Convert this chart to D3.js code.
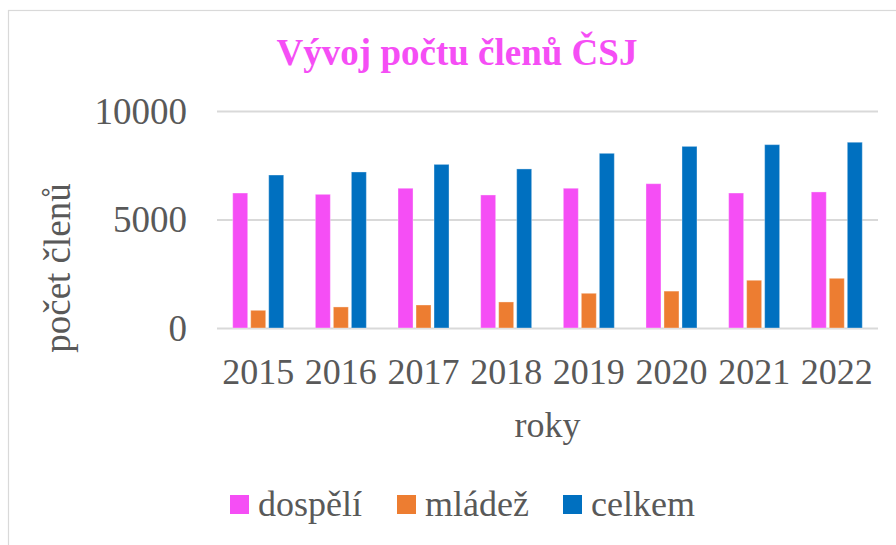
<!DOCTYPE html>
<html>
<head>
<meta charset="utf-8">
<script src="https://cdn.jsdelivr.net/npm/d3@7"></script>
<style>
  body { margin: 0; background: #fff; }
</style>
</head>
<body>
<div id="chart"></div>
<script>
const years = ["2015", "2016", "2017", "2018", "2019", "2020", "2021", "2022"];
const dospeli = [6220, 6160, 6440, 6130, 6440, 6650, 6220, 6270];
const mladez = [815, 970, 1060, 1200, 1600, 1700, 2200, 2290];
const celkem = [7050, 7190, 7540, 7330, 8050, 8370, 8450, 8560];
const seriesNames = ["dospělí", "mládež", "celkem"];
const seriesColors = ["#F54EF5", "#ED7D31", "#0070C0"];
const yTicks = [0, 5000, 10000];

const width = 896, height = 545;
const plot = { left: 217, right: 878, top: 111, bottom: 328 };
const serif = "'Liberation Serif', 'Times New Roman', Times, serif";

const svg = d3.select("#chart").append("svg")
    .attr("width", width)
    .attr("height", height)
    .style("font-family", serif);

// chart area border
svg.append("rect")
    .attr("x", 8.5).attr("y", 10.5)
    .attr("width", 1000).attr("height", 1000)
    .attr("fill", "#fff")
    .attr("stroke", "#d9d9d9")
    .attr("stroke-width", 1.2);

const y = d3.scaleLinear().domain([0, 10000]).range([plot.bottom, plot.top]);
const x0 = d3.scaleBand().domain(years).range([plot.left, plot.right])
    .paddingInner(0.383).paddingOuter(0.19);
const x1 = d3.scaleBand().domain(seriesNames).range([0, x0.bandwidth()])
    .paddingInner(0.167);

// y axis + gridlines
const yAxis = svg.append("g")
    .attr("transform", `translate(${plot.left},0)`)
    .call(d3.axisLeft(y).tickValues(yTicks).tickFormat(d3.format("d"))
        .tickSize(-(plot.right - plot.left)).tickPadding(30));
yAxis.attr("font-family", null);
yAxis.select(".domain").remove();
yAxis.selectAll(".tick line").attr("stroke", "#d9d9d9").attr("stroke-width", 1.8);
yAxis.selectAll(".tick text")
    .attr("fill", "#595959")
    .style("font-family", serif)
    .style("font-size", "37px")
    .attr("dy", "0.33em");

// x axis labels
const xAxis = svg.append("g")
    .attr("transform", `translate(0,${plot.bottom})`)
    .call(d3.axisBottom(x0).tickSize(0).tickPadding(30));
xAxis.attr("font-family", null);
xAxis.select(".domain").remove();
xAxis.selectAll(".tick text")
    .attr("fill", "#595959")
    .style("font-family", serif)
    .style("font-size", "36px");

// bars
const rows = years.map((yr, i) => ({ year: yr, values: [dospeli[i], mladez[i], celkem[i]] }));
const groups = svg.append("g").selectAll("g")
    .data(rows)
    .join("g")
    .attr("transform", d => `translate(${x0(d.year)},0)`);

groups.selectAll("rect")
    .data(d => d.values.map((v, k) => ({ key: seriesNames[k], value: v, color: seriesColors[k] })))
    .join("rect")
    .attr("x", d => x1(d.key))
    .attr("y", d => y(d.value))
    .attr("width", x1.bandwidth())
    .attr("height", d => y(0) - y(d.value))
    .attr("fill", d => d.color)
    .attr("stroke", "#fff")
    .attr("stroke-opacity", 0.35)
    .attr("stroke-width", 1);

// title
svg.append("text")
    .attr("x", 457).attr("y", 65)
    .attr("text-anchor", "middle")
    .attr("fill", "#F54EF5")
    .style("font-family", serif)
    .style("font-size", "37px")
    .style("font-weight", "bold")
    .text("Vývoj počtu členů ČSJ");

// axis titles
svg.append("text")
    .attr("x", (plot.left + plot.right) / 2).attr("y", 437)
    .attr("text-anchor", "middle")
    .attr("fill", "#595959")
    .style("font-family", serif)
    .style("font-size", "36px")
    .text("roky");

svg.append("text")
    .attr("transform", "translate(70,268) rotate(-90)")
    .attr("text-anchor", "middle")
    .attr("fill", "#595959")
    .style("font-family", serif)
    .style("font-size", "37px")
    .text("počet členů");

// legend
const legendX = [230, 397, 563];
const legend = svg.append("g").selectAll("g")
    .data(seriesNames)
    .join("g")
    .attr("transform", (d, i) => `translate(${legendX[i]},495)`);
legend.append("rect")
    .attr("width", 19).attr("height", 19)
    .attr("fill", (d, i) => seriesColors[i]);
legend.append("text")
    .attr("x", 28).attr("y", 21)
    .attr("fill", "#595959")
    .style("font-family", serif)
    .style("font-size", "36px")
    .text(d => d);
</script>
</body>
</html>
